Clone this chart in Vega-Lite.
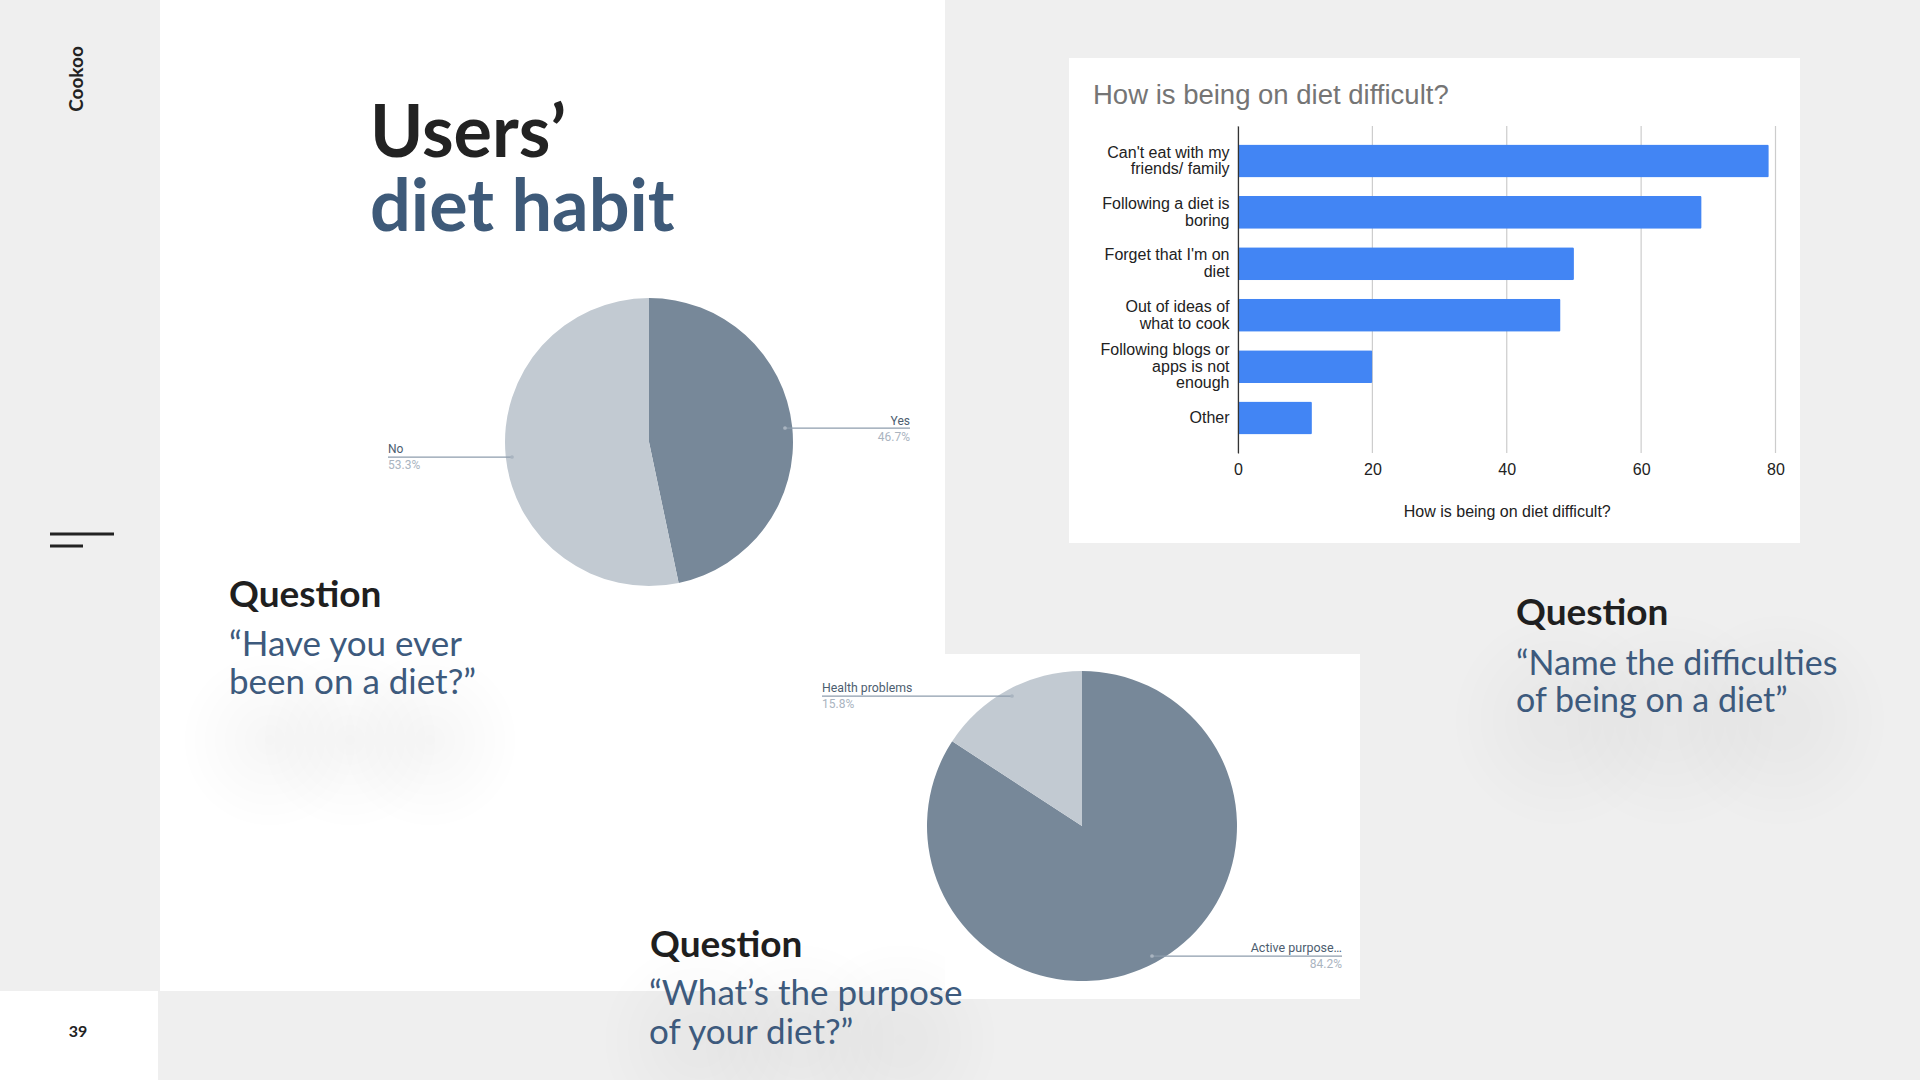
{
  "$schema": "https://vega.github.io/schema/vega-lite/v6.json",
  "width": 1920,
  "height": 1080,
  "autosize": {"type": "none"},
  "padding": 0,
  "background": "#efefef",
  "config": {"view": {"stroke": null}, "font": "Lato"},
  "data": {"values": [{}]},
  "datasets": {
    "tried": [
      {"answer": "Yes", "share": 0.467},
      {"answer": "No", "share": 0.533}
    ],
    "purpose": [
      {"answer": "Active purpose…", "share": 0.842},
      {"answer": "Health problems", "share": 0.158}
    ],
    "difficulty": [
      {"difficulty": "Can't eat with my friends/ family", "count": 79},
      {"difficulty": "Following a diet is boring", "count": 69},
      {"difficulty": "Forget that I'm on diet", "count": 50},
      {"difficulty": "Out of ideas of what to cook", "count": 48},
      {"difficulty": "Following blogs or apps is not enough", "count": 20},
      {"difficulty": "Other", "count": 11}
    ],
    "ticks": [{"tick": 0}, {"tick": 20}, {"tick": 40}, {"tick": 60}, {"tick": 80}]
  },
  "layer": [
    {"mark": {"type": "rect", "x": 160, "x2": 945, "y": 0, "y2": 991, "fill": "#ffffff"}},
    {"mark": {"type": "rect", "x": 0, "x2": 158, "y": 991, "y2": 1080, "fill": "#ffffff"}},

    {"mark": {"type": "rect", "x": 180, "x2": 360, "y": 650, "y2": 830, "fill": {"gradient": "radial", "stops": [{"offset": 0, "color": "rgba(0,0,0,0.035)"}, {"offset": 1, "color": "rgba(0,0,0,0)"}]}}},
    {"mark": {"type": "rect", "x": 260, "x2": 440, "y": 650, "y2": 830, "fill": {"gradient": "radial", "stops": [{"offset": 0, "color": "rgba(0,0,0,0.035)"}, {"offset": 1, "color": "rgba(0,0,0,0)"}]}}},
    {"mark": {"type": "rect", "x": 340, "x2": 520, "y": 650, "y2": 830, "fill": {"gradient": "radial", "stops": [{"offset": 0, "color": "rgba(0,0,0,0.035)"}, {"offset": 1, "color": "rgba(0,0,0,0)"}]}}},

    {"mark": {"type": "rect", "x": 1450, "x2": 1670, "y": 610, "y2": 830, "fill": {"gradient": "radial", "stops": [{"offset": 0, "color": "rgba(0,0,0,0.035)"}, {"offset": 1, "color": "rgba(0,0,0,0)"}]}}},
    {"mark": {"type": "rect", "x": 1560, "x2": 1780, "y": 610, "y2": 830, "fill": {"gradient": "radial", "stops": [{"offset": 0, "color": "rgba(0,0,0,0.035)"}, {"offset": 1, "color": "rgba(0,0,0,0)"}]}}},
    {"mark": {"type": "rect", "x": 1670, "x2": 1890, "y": 610, "y2": 830, "fill": {"gradient": "radial", "stops": [{"offset": 0, "color": "rgba(0,0,0,0.035)"}, {"offset": 1, "color": "rgba(0,0,0,0)"}]}}},

    {"mark": {"type": "rect", "x": 600, "x2": 800, "y": 940, "y2": 1140, "fill": {"gradient": "radial", "stops": [{"offset": 0, "color": "rgba(0,0,0,0.035)"}, {"offset": 1, "color": "rgba(0,0,0,0)"}]}}},
    {"mark": {"type": "rect", "x": 700, "x2": 900, "y": 940, "y2": 1140, "fill": {"gradient": "radial", "stops": [{"offset": 0, "color": "rgba(0,0,0,0.035)"}, {"offset": 1, "color": "rgba(0,0,0,0)"}]}}},
    {"mark": {"type": "rect", "x": 800, "x2": 1000, "y": 940, "y2": 1140, "fill": {"gradient": "radial", "stops": [{"offset": 0, "color": "rgba(0,0,0,0.035)"}, {"offset": 1, "color": "rgba(0,0,0,0)"}]}}},

    {"mark": {"type": "rect", "x": 1069, "x2": 1800, "y": 58, "y2": 543, "fill": "#ffffff"}},
    {"mark": {"type": "rect", "x": 945, "x2": 1360, "y": 654, "y2": 999, "fill": "#ffffff"}},

    {"mark": {"type": "rect", "x": 50, "x2": 114, "y": 532.5, "y2": 535.5, "fill": "#222222"}},
    {"mark": {"type": "rect", "x": 50, "x2": 83, "y": 544.5, "y2": 547.5, "fill": "#222222"}},

    {"mark": {"type": "text", "text": "Cookoo", "x": 77, "y": 79, "angle": 270, "align": "center", "baseline": "middle", "font": "Lato", "fontSize": 19, "fontWeight": "bold", "color": "#222222"}},
    {"mark": {"type": "text", "text": "39", "x": 78, "y": 1032, "align": "center", "baseline": "middle", "font": "Lato", "fontSize": 16, "fontWeight": "bold", "color": "#222222"}},

    {"mark": {"type": "text", "text": "Users’", "x": 370, "y": 157, "align": "left", "baseline": "alphabetic", "font": "Lato", "fontSize": 72, "fontWeight": "bold", "color": "#222222"}},
    {"mark": {"type": "text", "text": "diet habit", "x": 370, "y": 231, "align": "left", "baseline": "alphabetic", "font": "Lato", "fontSize": 72, "fontWeight": "bold", "color": "#3e5a79"}},

    {"data": {"name": "tried"}, "mark": {"type": "arc", "outerRadius": 144, "x": 649, "y": 442},
     "encoding": {
       "theta": {"field": "share", "type": "quantitative", "stack": true},
       "color": {"field": "answer", "type": "nominal", "scale": {"domain": ["Yes", "No"], "range": ["#778899", "#c2cad2"]}, "legend": null},
       "order": {"field": "share", "sort": "ascending"}
     }},
    {"mark": {"type": "rect", "x": 785, "x2": 910, "y": 427.5, "y2": 428.8, "fill": "#8e9dad"}},
    {"mark": {"type": "rect", "x": 388, "x2": 512, "y": 456.5, "y2": 457.8, "fill": "#8e9dad"}},
    {"mark": {"type": "point", "x": 785, "y": 428, "size": 14, "filled": true, "color": "#a9b4c0", "opacity": 1}},
    {"mark": {"type": "point", "x": 512, "y": 457, "size": 14, "filled": true, "color": "#a9b4c0", "opacity": 1}},
    {"data": {"name": "tried"}, "transform": [{"filter": "datum.answer === 'Yes'"}],
     "mark": {"type": "text", "x": 910, "y": 425, "align": "right", "baseline": "alphabetic", "font": "Roboto", "fontSize": 12, "color": "#4c5d6f"},
     "encoding": {"text": {"field": "answer"}}},
    {"data": {"name": "tried"}, "transform": [{"filter": "datum.answer === 'Yes'"}],
     "mark": {"type": "text", "x": 910, "y": 441, "align": "right", "baseline": "alphabetic", "font": "Roboto", "fontSize": 12, "color": "#aab4bf"},
     "encoding": {"text": {"field": "share", "format": ".1%"}}},
    {"data": {"name": "tried"}, "transform": [{"filter": "datum.answer === 'No'"}],
     "mark": {"type": "text", "x": 388, "y": 453, "align": "left", "baseline": "alphabetic", "font": "Roboto", "fontSize": 12, "color": "#4c5d6f"},
     "encoding": {"text": {"field": "answer"}}},
    {"data": {"name": "tried"}, "transform": [{"filter": "datum.answer === 'No'"}],
     "mark": {"type": "text", "x": 388, "y": 469, "align": "left", "baseline": "alphabetic", "font": "Roboto", "fontSize": 12, "color": "#aab4bf"},
     "encoding": {"text": {"field": "share", "format": ".1%"}}},

    {"data": {"name": "purpose"}, "mark": {"type": "arc", "outerRadius": 155, "x": 1082, "y": 826},
     "encoding": {
       "theta": {"field": "share", "type": "quantitative", "stack": true},
       "color": {"field": "answer", "type": "nominal", "scale": {"domain": ["Active purpose…", "Health problems"], "range": ["#778899", "#c2cad2"]}, "legend": null},
       "order": {"field": "share", "sort": "descending"}
     }},
    {"mark": {"type": "rect", "x": 822, "x2": 1012, "y": 695.5, "y2": 696.8, "fill": "#8e9dad"}},
    {"mark": {"type": "rect", "x": 1152, "x2": 1342, "y": 955.5, "y2": 956.8, "fill": "#8e9dad"}},
    {"mark": {"type": "point", "x": 1012, "y": 696, "size": 14, "filled": true, "color": "#a9b4c0", "opacity": 1}},
    {"mark": {"type": "point", "x": 1152, "y": 956, "size": 14, "filled": true, "color": "#a9b4c0", "opacity": 1}},
    {"data": {"name": "purpose"}, "transform": [{"filter": "datum.answer === 'Health problems'"}],
     "mark": {"type": "text", "x": 822, "y": 692, "align": "left", "baseline": "alphabetic", "font": "Roboto", "fontSize": 12.3, "color": "#4c5d6f"},
     "encoding": {"text": {"field": "answer"}}},
    {"data": {"name": "purpose"}, "transform": [{"filter": "datum.answer === 'Health problems'"}],
     "mark": {"type": "text", "x": 822, "y": 708, "align": "left", "baseline": "alphabetic", "font": "Roboto", "fontSize": 12, "color": "#aab4bf"},
     "encoding": {"text": {"field": "share", "format": ".1%"}}},
    {"data": {"name": "purpose"}, "transform": [{"filter": "datum.answer === 'Active purpose…'"}],
     "mark": {"type": "text", "x": 1342, "y": 952, "align": "right", "baseline": "alphabetic", "font": "Roboto", "fontSize": 12.5, "color": "#4c5d6f"},
     "encoding": {"text": {"field": "answer"}}},
    {"data": {"name": "purpose"}, "transform": [{"filter": "datum.answer === 'Active purpose…'"}],
     "mark": {"type": "text", "x": 1342, "y": 968, "align": "right", "baseline": "alphabetic", "font": "Roboto", "fontSize": 12, "color": "#aab4bf"},
     "encoding": {"text": {"field": "share", "format": ".1%"}}},

    {"mark": {"type": "text", "text": "How is being on diet difficult?", "x": 1093, "y": 104, "align": "left", "baseline": "alphabetic", "font": "Liberation Sans", "fontSize": 27.5, "color": "#757575"}},
    {
      "layer": [
        {"data": {"name": "ticks"},
         "mark": {"type": "rule", "y": 126, "y2": 453, "color": "#cccccc", "strokeWidth": 1.2},
         "encoding": {"x": {"field": "tick", "type": "quantitative"}}},
        {"data": {"name": "difficulty"},
         "mark": {"type": "bar", "color": "#4285f4", "cornerRadiusEnd": 1.5},
         "encoding": {
           "y": {"field": "difficulty", "type": "nominal", "sort": null,
                 "scale": {"range": [126, 453], "paddingInner": 0.36, "paddingOuter": 0.36},
                 "axis": {"orient": "left", "offset": -1238, "title": null, "zindex": 1, "domain": true, "domainColor": "#333333", "domainWidth": 1.2, "ticks": false, "grid": false,
                          "labelPadding": 9, "labelFont": "Liberation Sans", "labelFontSize": 16, "labelColor": "#222222", "labelLineHeight": 16.7, "labelLimit": 400,
                          "labelOffset": {"condition": [{"test": "datum.value === 'Following blogs or apps is not enough'", "value": -16.7}, {"test": "datum.value === 'Other'", "value": 0}], "value": -8.35},
                          "labelExpr": "datum.value === \"Can't eat with my friends/ family\" ? [\"Can't eat with my\", \"friends/ family\"] : datum.value === 'Following a diet is boring' ? ['Following a diet is', 'boring'] : datum.value === \"Forget that I'm on diet\" ? [\"Forget that I'm on\", 'diet'] : datum.value === 'Out of ideas of what to cook' ? ['Out of ideas of', 'what to cook'] : datum.value === 'Following blogs or apps is not enough' ? ['Following blogs or', 'apps is not', 'enough'] : datum.label"}},
           "x": {"field": "count", "type": "quantitative",
                 "scale": {"domain": [0, 80], "range": [1238, 1775.5], "nice": false},
                 "axis": {"orient": "bottom", "offset": -627, "zindex": 1, "values": [0, 20, 40, 60, 80], "grid": false, "domain": false, "ticks": false, "labelFlush": false,
                          "labelPadding": 8, "labelFont": "Liberation Sans", "labelFontSize": 16, "labelColor": "#222222",
                          "title": "How is being on diet difficult?", "titleFont": "Liberation Sans", "titleFontSize": 16, "titleFontWeight": "normal", "titleColor": "#222222", "titlePadding": 26}}
         }}
      ]
    },

    {"mark": {"type": "text", "text": "Question", "x": 229, "y": 607, "align": "left", "baseline": "alphabetic", "font": "Lato", "fontSize": 37, "fontWeight": "bold", "color": "#1f1f1f"}},
    {"mark": {"type": "text", "text": ["“Have you ever", "been on a diet?”"], "x": 229, "y": 656, "align": "left", "baseline": "alphabetic", "font": "Lato", "fontSize": 35, "lineHeight": 38, "color": "#3d5a7d"}},
    {"mark": {"type": "text", "text": "Question", "x": 1516, "y": 625, "align": "left", "baseline": "alphabetic", "font": "Lato", "fontSize": 37, "fontWeight": "bold", "color": "#1f1f1f"}},
    {"mark": {"type": "text", "text": ["“Name the difficulties", "of being on a diet”"], "x": 1516, "y": 675, "align": "left", "baseline": "alphabetic", "font": "Lato", "fontSize": 34, "lineHeight": 37, "color": "#3d5a7d"}},
    {"mark": {"type": "text", "text": "Question", "x": 650, "y": 957, "align": "left", "baseline": "alphabetic", "font": "Lato", "fontSize": 37, "fontWeight": "bold", "color": "#1f1f1f"}},
    {"mark": {"type": "text", "text": ["“What’s the purpose", "of your diet?”"], "x": 649, "y": 1005, "align": "left", "baseline": "alphabetic", "font": "Lato", "fontSize": 35, "lineHeight": 39, "color": "#3d5a7d"}}
  ],
  "resolve": {"scale": {"x": "independent", "y": "independent", "theta": "independent", "color": "independent"}}
}
